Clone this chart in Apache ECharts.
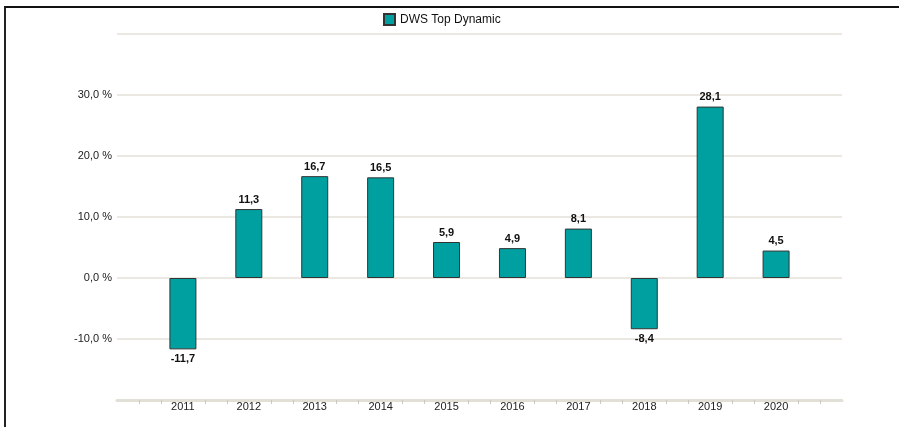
<!DOCTYPE html>
<html><head><meta charset="utf-8">
<script src="https://cdn.jsdelivr.net/npm/echarts@6/dist/echarts.min.js"></script>
<style>
html,body{margin:0;padding:0;background:#fff;}
#frame{position:absolute;left:4px;top:6px;width:895px;height:421px;border-top:2px solid #111;border-left:2px solid #222;box-sizing:border-box;}
#c{position:absolute;left:0;top:0;width:899px;height:427px;}
</style></head>
<body>
<div id="frame"></div>
<div id="c"></div>
<script>
var years = [2011, 2012, 2013, 2014, 2015, 2016, 2017, 2018, 2019, 2020];
var values = [-11.7, 11.3, 16.7, 16.5, 5.9, 4.9, 8.1, -8.4, 28.1, 4.5];
var seriesName = 'DWS Top Dynamic';
var yTicks = [-20, -10, 0, 10, 20, 30, 40];

var chart = echarts.init(document.getElementById('c'));
var fmt = function(v){ return v.toFixed(1).replace('.', ','); };
chart.setOption({
  animation: false,
  textStyle: {fontFamily: 'Liberation Sans, Arial, sans-serif'},
  legend: {
    data: [seriesName], left: 378, top: 8, itemWidth: 11, itemHeight: 11, itemGap: 5,
    textStyle: {fontSize: 12, color: '#111', fontFamily: 'Liberation Sans, Arial, sans-serif'},
    icon: 'rect'
  },
  grid: {left: 117, right: 57, top: 34, bottom: 27},
  xAxis: {
    type: 'value', min: 2010, max: 2021, interval: 1,
    axisLine: {show: true, onZero: false, lineStyle: {color: '#e2dfd6', width: 3}},
    axisTick: {show: false},
    minorTick: {show: true, splitNumber: 3, length: 4, lineStyle: {color: '#ccc9c0', width: 1}},
    splitLine: {show: false},
    axisLabel: {
      fontSize: 11, color: '#222', margin: 1,
      formatter: function(v){ return (v >= 2011 && v <= 2020) ? String(v) : ''; }
    }
  },
  yAxis: {
    type: 'value', min: yTicks[0], max: yTicks[yTicks.length-1], interval: 10,
    axisLine: {show: false}, axisTick: {show: false},
    splitLine: {lineStyle: {color: '#e4e1da', width: 1.5}},
    axisLabel: {
      fontSize: 11, color: '#222', margin: 5,
      formatter: function(v){ return (v > -20 && v < 40) ? fmt(v) + ' %' : ''; }
    }
  },
  series: [{
    name: seriesName, type: 'bar', barWidth: 27,
    data: years.map(function(y, i){
      return values[i] < 0 ? {value: [y, values[i]], label: {position: 'bottom'}} : [y, values[i]];
    }),
    itemStyle: {color: '#00a0a0', borderColor: '#333', borderWidth: 1},
    label: {
      show: true, fontSize: 11, fontWeight: 'bold', color: '#111', distance: 4,
      formatter: function(p){ return fmt(p.value[1]); },
      position: 'top'
    }
  }]
});
</script>
</body></html>
